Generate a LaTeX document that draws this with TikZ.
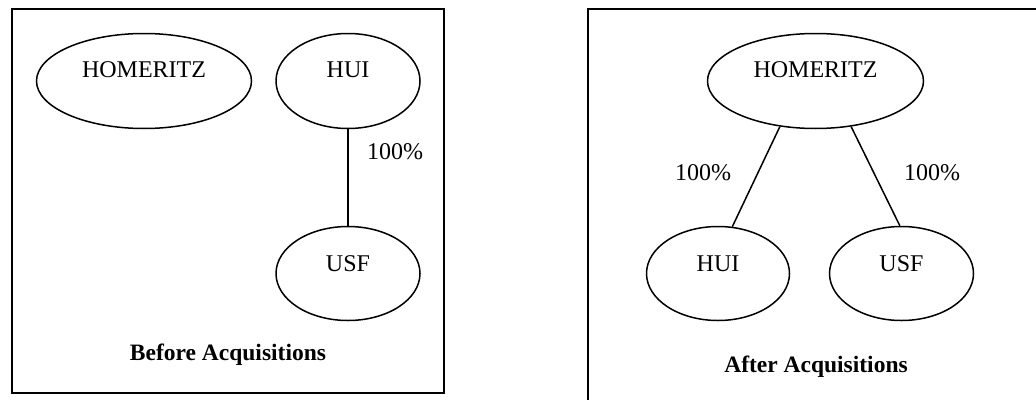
\documentclass[tikz,border=0pt]{standalone}
\usepackage{fontspec}
\setmainfont{Liberation Serif}
\usetikzlibrary{shapes.geometric}
\begin{document}
\begin{tikzpicture}[x=1pt,y=-1pt,
  ent/.style={draw,ellipse,line width=1.5pt,inner sep=0pt},
  txt/.style={inner sep=0pt,font=\fontsize{24}{28}\selectfont},
  ttl/.style={inner sep=0pt,font=\fontsize{23.5}{28}\selectfont\bfseries},
  frame/.style={line width=1.7pt},
  link/.style={line width=1.5pt}]
\useasboundingbox (0,0) rectangle (1036,399);
% left panel
\draw[frame] (12,9) rectangle (444,393);
\node[ent,minimum width=215pt,minimum height=95pt] (h1) at (144,81) {};
\node[ent,minimum width=144pt,minimum height=95pt] (hu1) at (348,81) {};
\node[ent,minimum width=144pt,minimum height=94pt] (u1) at (348,273.5) {};
\node[txt] (h1t) at ([yshift=11pt]h1.center) {HOMERITZ};
\node[txt] (hu1t) at ([yshift=11pt]hu1.center) {HUI};
\node[txt] (u1t) at ([yshift=10pt]u1.center) {USF};
\draw[link] (hu1.south) -- (u1.north);
\node[txt] (p1) at (395,152) {100\%};
\node[ttl] (t1) at (228,355) {Before Acquisitions};
% right panel
\draw[frame] (1040,9) -- (588,9) -- (588,402);
\node[ent,minimum width=216pt,minimum height=95pt] (h2) at (815.5,81) {};
\node[ent,minimum width=143pt,minimum height=94pt] (hu2) at (718,273.5) {};
\node[ent,minimum width=144pt,minimum height=94pt] (u2) at (901.5,273.5) {};
\node[txt] (h2t) at ([yshift=11pt]h2.center) {HOMERITZ};
\node[txt] (hu2t) at ([yshift=10pt]hu2.center) {HUI};
\node[txt] (u2t) at ([yshift=10pt]u2.center) {USF};
\draw[link] (h2.232) -- (hu2.73);
\draw[link] (h2.308) -- (u2.92);
\node[txt] (p2) at (703,173) {100\%};
\node[txt] (p3) at (932,173) {100\%};
\node[ttl] (t2) at (816,367) {After Acquisitions};
\end{tikzpicture}
\end{document}
